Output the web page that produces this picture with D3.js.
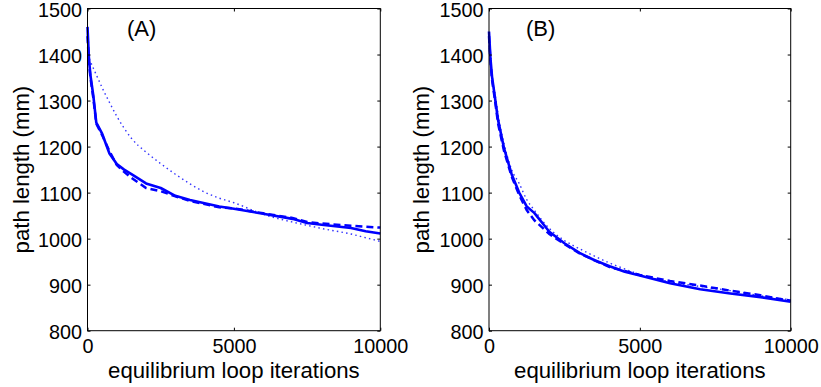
<!DOCTYPE html>
<html>
<head>
<meta charset="utf-8">
<script src="https://cdn.jsdelivr.net/npm/d3@7"></script>
<style>
  html, body { margin: 0; padding: 0; background: #fff; }
  svg { display: block; }
  text { font-family: "Liberation Sans", Arial, Helvetica, sans-serif; fill: #000; }
</style>
</head>
<body>
<svg id="chart" width="821" height="387"></svg>
<script>
// ---------------- data ----------------
const xTicks = [0, 5000, 10000];
const yTicks = [800, 900, 1000, 1100, 1200, 1300, 1400, 1500];
const xDomain = [0, 10000];
const yDomain = [800, 1500];
const xLabel = "equilibrium loop iterations";
const yLabel = "path length (mm)";
const panelLabels = ["(A)", "(B)"];

// iterations at which the curves were read
const itersA = [0, 50, 100, 200, 300, 500, 750, 1000, 1250, 1500, 2000, 2500, 3000, 3500, 4000, 4500, 5000, 6000, 7000, 7500, 8000, 9000, 9500, 10000];
const solidA  = [1460, 1390, 1355, 1310, 1252, 1228, 1185, 1162, 1150, 1140, 1120, 1110, 1093, 1084, 1077, 1070, 1065, 1054, 1043, 1034, 1030, 1023, 1016, 1011];
const dashedA = [1440, 1385, 1350, 1305, 1250, 1225, 1190, 1160, 1145, 1132, 1110, 1103, 1092, 1082, 1075, 1068, 1066, 1055, 1045, 1036, 1033, 1028, 1026, 1024];
const dottedA = [1400, 1393, 1385, 1370, 1356, 1328, 1296, 1266, 1240, 1218, 1188, 1163, 1140, 1119, 1101, 1088, 1078, 1053, 1036, 1029, 1022, 1010, 1002, 994];

const itersB = [0, 50, 100, 200, 300, 500, 750, 1000, 1250, 1500, 2000, 2500, 3000, 3500, 4000, 4500, 5000, 6000, 7000, 8000, 9000, 10000];
const solidB  = [1450, 1390, 1352, 1305, 1258, 1196, 1140, 1100, 1070, 1056, 1015, 990, 969, 953, 940, 928, 920, 903, 890, 881, 873, 863];
const dashedB = [1440, 1385, 1345, 1300, 1250, 1190, 1135, 1095, 1062, 1040, 1010, 988, 968, 953, 938, 930, 921, 908, 898, 887, 877, 865];
const dottedB = [1420, 1385, 1355, 1315, 1270, 1206, 1150, 1120, 1085, 1062, 1022, 996, 978, 962, 947, 934, 922, 906, 896, 887, 876, 867];

// ---------------- layout ----------------
const panels = [
  { left: 87.5, right: 380.3, top: 8.5, bottom: 330.7, label: panelLabels[0], labelX: 127, yLabelX: 29,
    iters: itersA, solid: solidA, dashed: dashedA, dotted: dottedA },
  { left: 489, right: 790.7, top: 8.5, bottom: 330.7, label: panelLabels[1], labelX: 526, yLabelX: 429,
    iters: itersB, solid: solidB, dashed: dashedB, dotted: dottedB }
];

const svg = d3.select("#chart");
const blue = "#0000ff";
const tickFont = 19.8;
const labelFont = 22.2;
const tickLen = 3;

panels.forEach(p => {
  const x = d3.scaleLinear().domain(xDomain).range([p.left, p.right]);
  const y = d3.scaleLinear().domain(yDomain).range([p.bottom, p.top]);
  const g = svg.append("g");

  // curves
  const line = d3.line().x(d => x(d[0])).y(d => y(d[1]));
  const mk = vals => p.iters.map((it, i) => [it, vals[i]]);

  g.append("path").datum(mk(p.dotted))
    .attr("d", line.curve(d3.curveMonotoneX)).attr("fill", "none").attr("stroke", blue)
    .attr("stroke-width", 1.4).attr("stroke-dasharray", "1.5 3.2").attr("opacity", 0.8);
  line.curve(d3.curveLinear);
  g.append("path").datum(mk(p.dashed))
    .attr("d", line).attr("fill", "none").attr("stroke", blue)
    .attr("stroke-width", 2.5).attr("stroke-dasharray", "7 4");
  g.append("path").datum(mk(p.solid))
    .attr("d", line).attr("fill", "none").attr("stroke", blue)
    .attr("stroke-width", 2.6).attr("stroke-linejoin", "round");

  // axes with inward ticks (box style)
  const axB = d3.axisBottom(x).tickValues(xTicks).tickSize(-tickLen).tickPadding(8.5).tickFormat(d3.format("d"));
  const axT = d3.axisTop(x).tickValues(xTicks).tickSize(-tickLen).tickFormat("");
  const axL = d3.axisLeft(y).tickValues(yTicks).tickSize(-tickLen).tickPadding(5.5).tickFormat(d3.format("d"));
  const axR = d3.axisRight(y).tickValues(yTicks).tickSize(-tickLen).tickFormat("");

  const styleAxis = sel => {
    sel.select(".domain").remove();
    sel.selectAll(".tick line").attr("stroke", "#000").attr("stroke-width", 1);
    sel.selectAll(".tick text").style("font-size", tickFont + "px").attr("fill", "#000")
       .style("font-family", "'Liberation Sans', Arial, sans-serif");
  };
  g.append("g").attr("transform", `translate(0,${p.bottom})`).call(axB).call(styleAxis);
  g.append("g").attr("transform", `translate(0,${p.top})`).call(axT).call(styleAxis);
  g.append("g").attr("transform", `translate(${p.left},0)`).call(axL).call(styleAxis)
    .selectAll(".tick text").attr("dy", "0.38em");
  g.append("g").attr("transform", `translate(${p.right},0)`).call(axR).call(styleAxis);

  // box
  g.append("rect").attr("x", p.left).attr("y", p.top)
    .attr("width", p.right - p.left).attr("height", p.bottom - p.top)
    .attr("fill", "none").attr("stroke", "#000").attr("stroke-width", 1);

  // labels
  g.append("text").attr("x", (p.left + p.right) / 2).attr("y", 377.5)
    .attr("text-anchor", "middle").style("font-size", labelFont + "px").text(xLabel);
  g.append("text").attr("transform", `translate(${p.yLabelX},${(p.top + p.bottom) / 2}) rotate(-90)`)
    .attr("text-anchor", "middle").style("font-size", labelFont + "px").text(yLabel);
  g.append("text").attr("x", p.labelX).attr("y", 36)
    .style("font-size", "22px").text(p.label);
});
</script>
</body>
</html>
